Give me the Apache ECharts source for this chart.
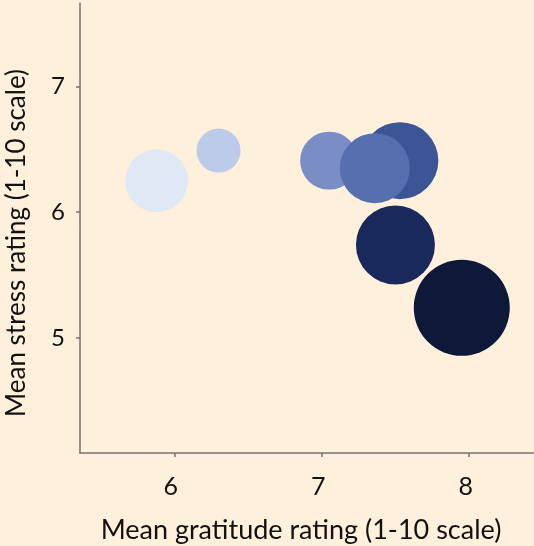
<!DOCTYPE html>
<html>
<head>
<meta charset="utf-8">
<script src="https://cdn.jsdelivr.net/npm/echarts@6/dist/echarts.min.js"></script>
<style>
html,body{margin:0;padding:0;background:#fff0dc;}
#chart{width:534px;height:546px;}
</style>
</head>
<body>
<div id="chart"></div>
<script>
// Data
var gratitude = [5.88, 6.30, 7.05, 7.53, 7.36, 7.50, 7.95];
var stress    = [6.25, 6.49, 6.41, 6.41, 6.35, 5.74, 5.24];
var weight    = [39.7, 19.4, 33.6, 59.3, 49.0, 62.4, 92.2];
var colors    = ['#dfe9f6', '#bccbe9', '#7a8dc5', '#3c5596', '#566fae', '#1a295c', '#0e1839'];
var xTicks = [6, 7, 8];
var yTicks = [5, 6, 7];

var points = gratitude.map(function (g, i) {
  return { value: [g, stress[i], weight[i]], itemStyle: { color: colors[i] } };
});

var font = 'Lato, "Noto Sans", sans-serif';
var axisColor = '#76726e';
var chart = echarts.init(document.getElementById('chart'));
chart.setOption({
  backgroundColor: '#fff0dc',
  animation: false,
  grid: { left: 80, right: 0, top: 3, bottom: 93, containLabel: false, outerBoundsMode: 'none' },
  xAxis: {
    type: 'value', min: 5.36, max: 8.44,
    name: 'Mean gratitude rating (1-10 scale)',
    nameLocation: 'middle', nameGap: 64,
    nameTextStyle: { fontFamily: font, fontSize: 27, color: '#111', padding: [0, 12, 0, 0] },
    axisLine: { show: true, lineStyle: { color: axisColor, width: 1.5 } },
    axisTick: { show: true, length: 4, lineStyle: { color: axisColor, width: 1.5 }, customValues: xTicks },
    axisLabel: { fontFamily: font, fontSize: 25, color: '#111', margin: 21, padding: [0, 7, 0, 0], customValues: xTicks },
    splitLine: { show: false }
  },
  yAxis: {
    type: 'value', min: 4.086, max: 7.663,
    name: 'Mean stress rating (1-10 scale)',
    nameLocation: 'middle', nameGap: 50,
    nameTextStyle: { fontFamily: font, fontSize: 26, color: '#111', padding: [0, 30, 0, 0] },
    axisLine: { show: true, lineStyle: { color: axisColor, width: 1.5 } },
    axisTick: { show: true, length: 4, lineStyle: { color: axisColor, width: 1.5 }, customValues: yTicks },
    axisLabel: { fontFamily: font, fontSize: 24, color: '#111', margin: 15, customValues: yTicks },
    splitLine: { show: false }
  },
  series: [{
    type: 'scatter',
    data: points,
    symbolSize: function (v) { return Math.sqrt(v[2]) * 10; },
    itemStyle: { opacity: 1 }
  }]
});
</script>
</body>
</html>
